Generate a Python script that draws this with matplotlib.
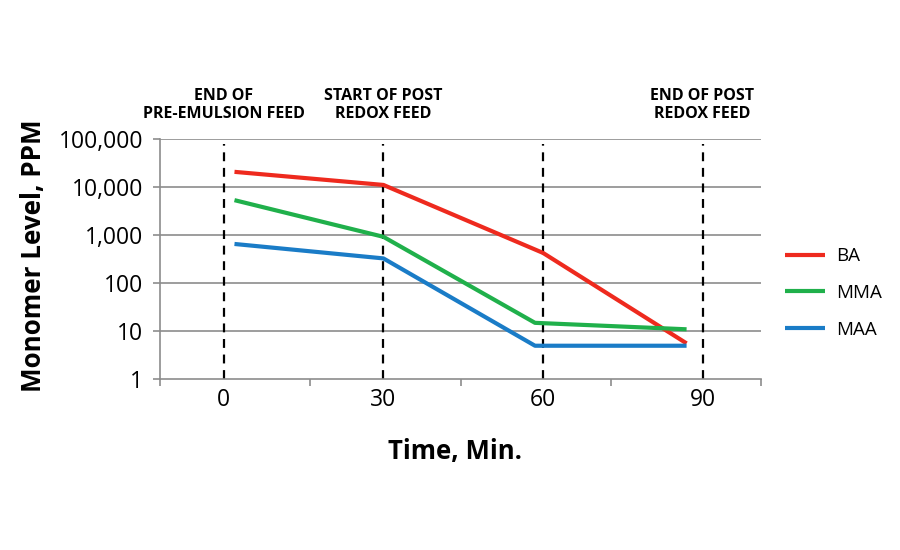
import numpy as np
import matplotlib
matplotlib.use('Agg')
import matplotlib.pyplot as plt

plt.rcParams['font.family'] = ['Open Sans', 'DejaVu Sans']

# dati
t_ba = [2, 30, 60, 87]
ba = [21000, 11200, 430, 5.6]
t_mma = [2, 30, 58.5, 87]
mma = [5400, 930, 15, 11]
t_maa = [2, 30, 58.5, 87]
maa = [660, 330, 5, 5]

eventi = [0, 30, 60, 90]
eventi_testo = ['END OF\nPRE-EMULSION FEED', 'START OF POST\nREDOX FEED', '', 'END OF POST\nREDOX FEED']
yticks = [1, 10, 100, 1000, 10000, 100000]
ytick_labels = ['1', '10', '100', '1,000', '10,000', '100,000']

fig = plt.figure(figsize=(9, 5.5), dpi=100)
ax = fig.add_axes([0.1778, 0.3104, 0.6678, 0.4363])

ax.set_yscale('log')
ax.set_ylim(1, 100000)
ax.set_xlim(-12, 101)

# griglia orizzontale
for v in yticks[1:]:
    ax.axhline(v, color='#8c8c8c', lw=1.2, zorder=1)

# linee verticali tratteggiate
for e in eventi:
    ax.plot([e, e], [1, 80000], color='black', lw=1.6, ls=(0, (4, 3)), zorder=2)

ax.plot(t_ba, ba, color='#ee2a1e', lw=3, label='BA', zorder=3, solid_capstyle='butt')
ax.plot(t_mma, mma, color='#20b04b', lw=3, label='MMA', zorder=3, solid_capstyle='butt')
ax.plot(t_maa, maa, color='#1a7cc7', lw=3, label='MAA', zorder=3, solid_capstyle='butt')

ax.set_yticks(yticks)
ax.set_yticklabels(ytick_labels, fontsize=16.5)
ax.yaxis.set_minor_locator(matplotlib.ticker.NullLocator())

# tacche sull'asse x (non allineate alle etichette, come nell'originale)
ax.set_xticks(np.linspace(-12, 101, 5))
ax.set_xticklabels([])
ax.tick_params(axis='both', direction='out', length=5, color='#8c8c8c', width=1.2)
ax.tick_params(axis='y', pad=7)
for e in eventi:
    ax.text(e, -0.088, str(e), ha='center', va='center', fontsize=16.5,
            transform=ax.get_xaxis_transform())

for s in ['top', 'right']:
    ax.spines[s].set_visible(False)
for s in ['left', 'bottom']:
    ax.spines[s].set_color('#8c8c8c')
    ax.spines[s].set_linewidth(1.2)

for e, testo in zip(eventi, eventi_testo):
    if testo:
        ax.text(e, 1.143, testo, ha='center', va='center', fontsize=11.5, fontweight='bold',
                linespacing=1.2, transform=ax.get_xaxis_transform())

fig.text(0.037, 0.536, 'Monomer Level, PPM', rotation=90, ha='center', va='center',
         fontsize=18.7, fontweight='bold')
fig.text(0.506, 0.18, 'Time, Min.', ha='center', va='center', fontsize=18.5, fontweight='bold')

ax.legend(loc='center left', bbox_to_anchor=(785 / 900, 1 - 293 / 550), bbox_transform=fig.transFigure,
          frameon=False, fontsize=13.5, borderpad=0, borderaxespad=0,
          handlelength=2.15, labelspacing=1.0, handletextpad=0.55)

fig.savefig('out.png', dpi=100)
